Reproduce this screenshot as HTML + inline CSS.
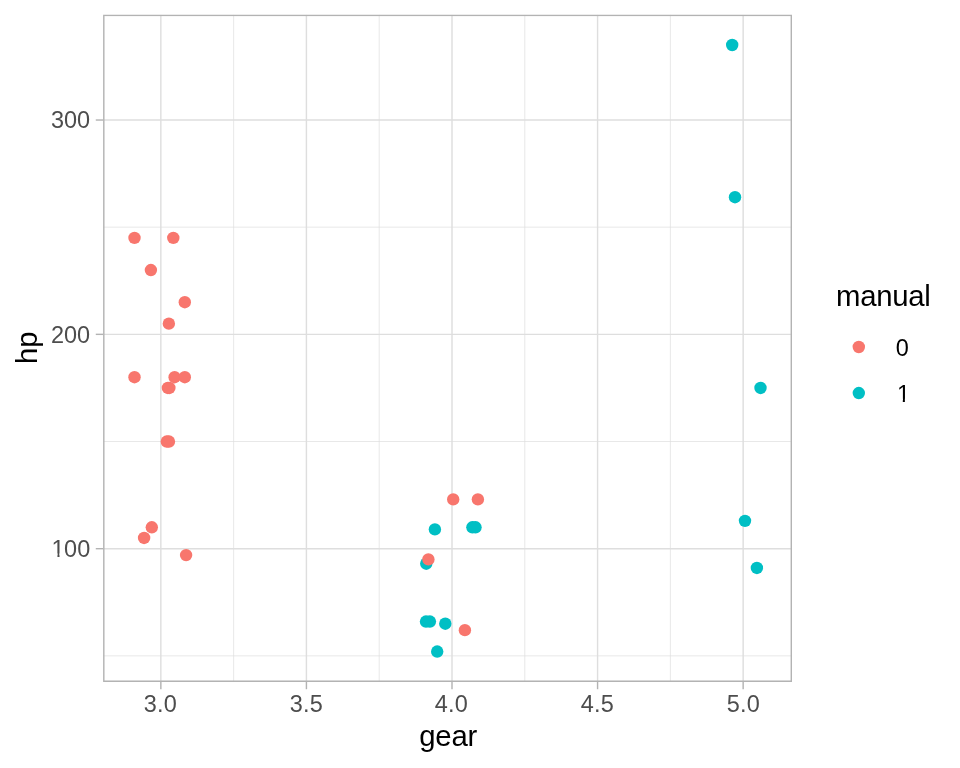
<!DOCTYPE html>
<html lang="en"><head><meta charset="utf-8"><title>hp vs gear</title>
<style>html,body{margin:0;padding:0;background:#fff;}svg{display:block;}text{font-family:"Liberation Sans",Arial,Helvetica,sans-serif;}</style></head><body>
<svg width="960" height="768" viewBox="0 0 960 768">
<rect x="0" y="0" width="960" height="768" fill="#ffffff"/>
<defs><clipPath id="panel"><rect x="103.1" y="14.67" width="688.90" height="667.23"/></clipPath></defs>
<g clip-path="url(#panel)">
<g stroke="#dedede" stroke-width="0.71" fill="none">
<line x1="103.1" x2="792.0" y1="655.86" y2="655.86"/>
<line x1="103.1" x2="792.0" y1="441.52" y2="441.52"/>
<line x1="103.1" x2="792.0" y1="227.18" y2="227.18"/>
<line x1="233.64" x2="233.64" y1="14.67" y2="681.9"/>
<line x1="379.21" x2="379.21" y1="14.67" y2="681.9"/>
<line x1="524.79" x2="524.79" y1="14.67" y2="681.9"/>
<line x1="670.36" x2="670.36" y1="14.67" y2="681.9"/>
</g>
<g stroke="#dedede" stroke-width="1.42" fill="none">
<line x1="103.1" x2="792.0" y1="548.69" y2="548.69"/>
<line x1="103.1" x2="792.0" y1="334.35" y2="334.35"/>
<line x1="103.1" x2="792.0" y1="120.02" y2="120.02"/>
<line x1="160.85" x2="160.85" y1="14.67" y2="681.9"/>
<line x1="306.42" x2="306.42" y1="14.67" y2="681.9"/>
<line x1="452.00" x2="452.00" y1="14.67" y2="681.9"/>
<line x1="597.57" x2="597.57" y1="14.67" y2="681.9"/>
<line x1="743.15" x2="743.15" y1="14.67" y2="681.9"/>
</g>
<g stroke="none" shape-rendering="geometricPrecision">
<circle cx="472.40" cy="527.26" r="6.2" fill="#00BFC4"/>
<circle cx="475.50" cy="527.26" r="6.2" fill="#00BFC4"/>
<circle cx="426.25" cy="563.69" r="6.2" fill="#00BFC4"/>
<circle cx="151.80" cy="527.26" r="6.2" fill="#F8766D"/>
<circle cx="167.90" cy="387.94" r="6.2" fill="#F8766D"/>
<circle cx="144.10" cy="537.97" r="6.2" fill="#F8766D"/>
<circle cx="134.50" cy="237.90" r="6.2" fill="#F8766D"/>
<circle cx="464.90" cy="630.14" r="6.2" fill="#F8766D"/>
<circle cx="428.40" cy="559.41" r="6.2" fill="#F8766D"/>
<circle cx="453.20" cy="499.39" r="6.2" fill="#F8766D"/>
<circle cx="477.90" cy="499.39" r="6.2" fill="#F8766D"/>
<circle cx="134.50" cy="377.22" r="6.2" fill="#F8766D"/>
<circle cx="174.60" cy="377.22" r="6.2" fill="#F8766D"/>
<circle cx="184.80" cy="377.22" r="6.2" fill="#F8766D"/>
<circle cx="168.85" cy="323.64" r="6.2" fill="#F8766D"/>
<circle cx="184.80" cy="302.20" r="6.2" fill="#F8766D"/>
<circle cx="150.90" cy="270.05" r="6.2" fill="#F8766D"/>
<circle cx="426.00" cy="621.56" r="6.2" fill="#00BFC4"/>
<circle cx="437.20" cy="651.57" r="6.2" fill="#00BFC4"/>
<circle cx="445.30" cy="623.71" r="6.2" fill="#00BFC4"/>
<circle cx="186.10" cy="555.12" r="6.2" fill="#F8766D"/>
<circle cx="166.80" cy="441.52" r="6.2" fill="#F8766D"/>
<circle cx="168.96" cy="441.52" r="6.2" fill="#F8766D"/>
<circle cx="173.30" cy="237.90" r="6.2" fill="#F8766D"/>
<circle cx="169.35" cy="387.94" r="6.2" fill="#F8766D"/>
<circle cx="429.90" cy="621.56" r="6.2" fill="#00BFC4"/>
<circle cx="756.90" cy="567.98" r="6.2" fill="#00BFC4"/>
<circle cx="745.00" cy="520.83" r="6.2" fill="#00BFC4"/>
<circle cx="735.00" cy="197.18" r="6.2" fill="#00BFC4"/>
<circle cx="760.50" cy="387.94" r="6.2" fill="#00BFC4"/>
<circle cx="732.20" cy="45.00" r="6.2" fill="#00BFC4"/>
<circle cx="434.90" cy="529.40" r="6.2" fill="#00BFC4"/>
</g>
<rect x="103.1" y="14.67" width="688.90" height="667.23" fill="none" stroke="#b3b3b3" stroke-width="2.845"/>
</g>
<g stroke="#b3b3b3" stroke-width="1.42" fill="none">
<line x1="95.77" x2="103.1" y1="548.69" y2="548.69"/>
<line x1="95.77" x2="103.1" y1="334.35" y2="334.35"/>
<line x1="95.77" x2="103.1" y1="120.02" y2="120.02"/>
<line x1="160.85" x2="160.85" y1="681.9" y2="689.23"/>
<line x1="306.42" x2="306.42" y1="681.9" y2="689.23"/>
<line x1="452.00" x2="452.00" y1="681.9" y2="689.23"/>
<line x1="597.57" x2="597.57" y1="681.9" y2="689.23"/>
<line x1="743.15" x2="743.15" y1="681.9" y2="689.23"/>
</g>
<g fill="#4d4d4d" font-size="23.47px">
<text x="51.54 64.09 77.15" y="556.84">100</text>
<rect x="52.00" y="553.40" width="5.44" height="4.64" fill="#fff"/><rect x="59.52" y="553.40" width="4.63" height="4.64" fill="#fff"/>
<text x="90.20" y="342.50" text-anchor="end">200</text>
<text x="90.20" y="128.17" text-anchor="end">300</text>
<text x="143.79 157.09 163.86" y="711.9">3.0</text>
<text x="289.79 303.09 309.86" y="711.9">3.5</text>
<text x="434.79 448.09 454.86" y="711.9">4.0</text>
<text x="580.79 594.09 600.86" y="711.9">4.5</text>
<text x="726.79 740.09 746.86" y="711.9">5.0</text>
</g>
<text x="448.15" y="746.3" text-anchor="middle" font-size="29.33px" fill="#000" letter-spacing="-0.2">gear</text>
<text transform="translate(36.9,347.78) rotate(-90)" text-anchor="middle" font-size="29.33px" fill="#000">hp</text>
<text x="836" y="306.0" font-size="29.33px" fill="#000" letter-spacing="-0.28">manual</text>
<circle cx="858.8" cy="347.0" r="6.2" fill="#F8766D"/>
<circle cx="858.8" cy="393.05" r="6.2" fill="#00BFC4"/>
<text x="895.85" y="356.4" font-size="23.47px" fill="#000">0</text>
<text x="896.9" y="402.1" font-size="23.47px" fill="#000">1</text>
<rect x="897.36" y="398.66" width="5.44" height="4.64" fill="#fff"/><rect x="904.88" y="398.66" width="4.63" height="4.64" fill="#fff"/>
</svg></body></html>
